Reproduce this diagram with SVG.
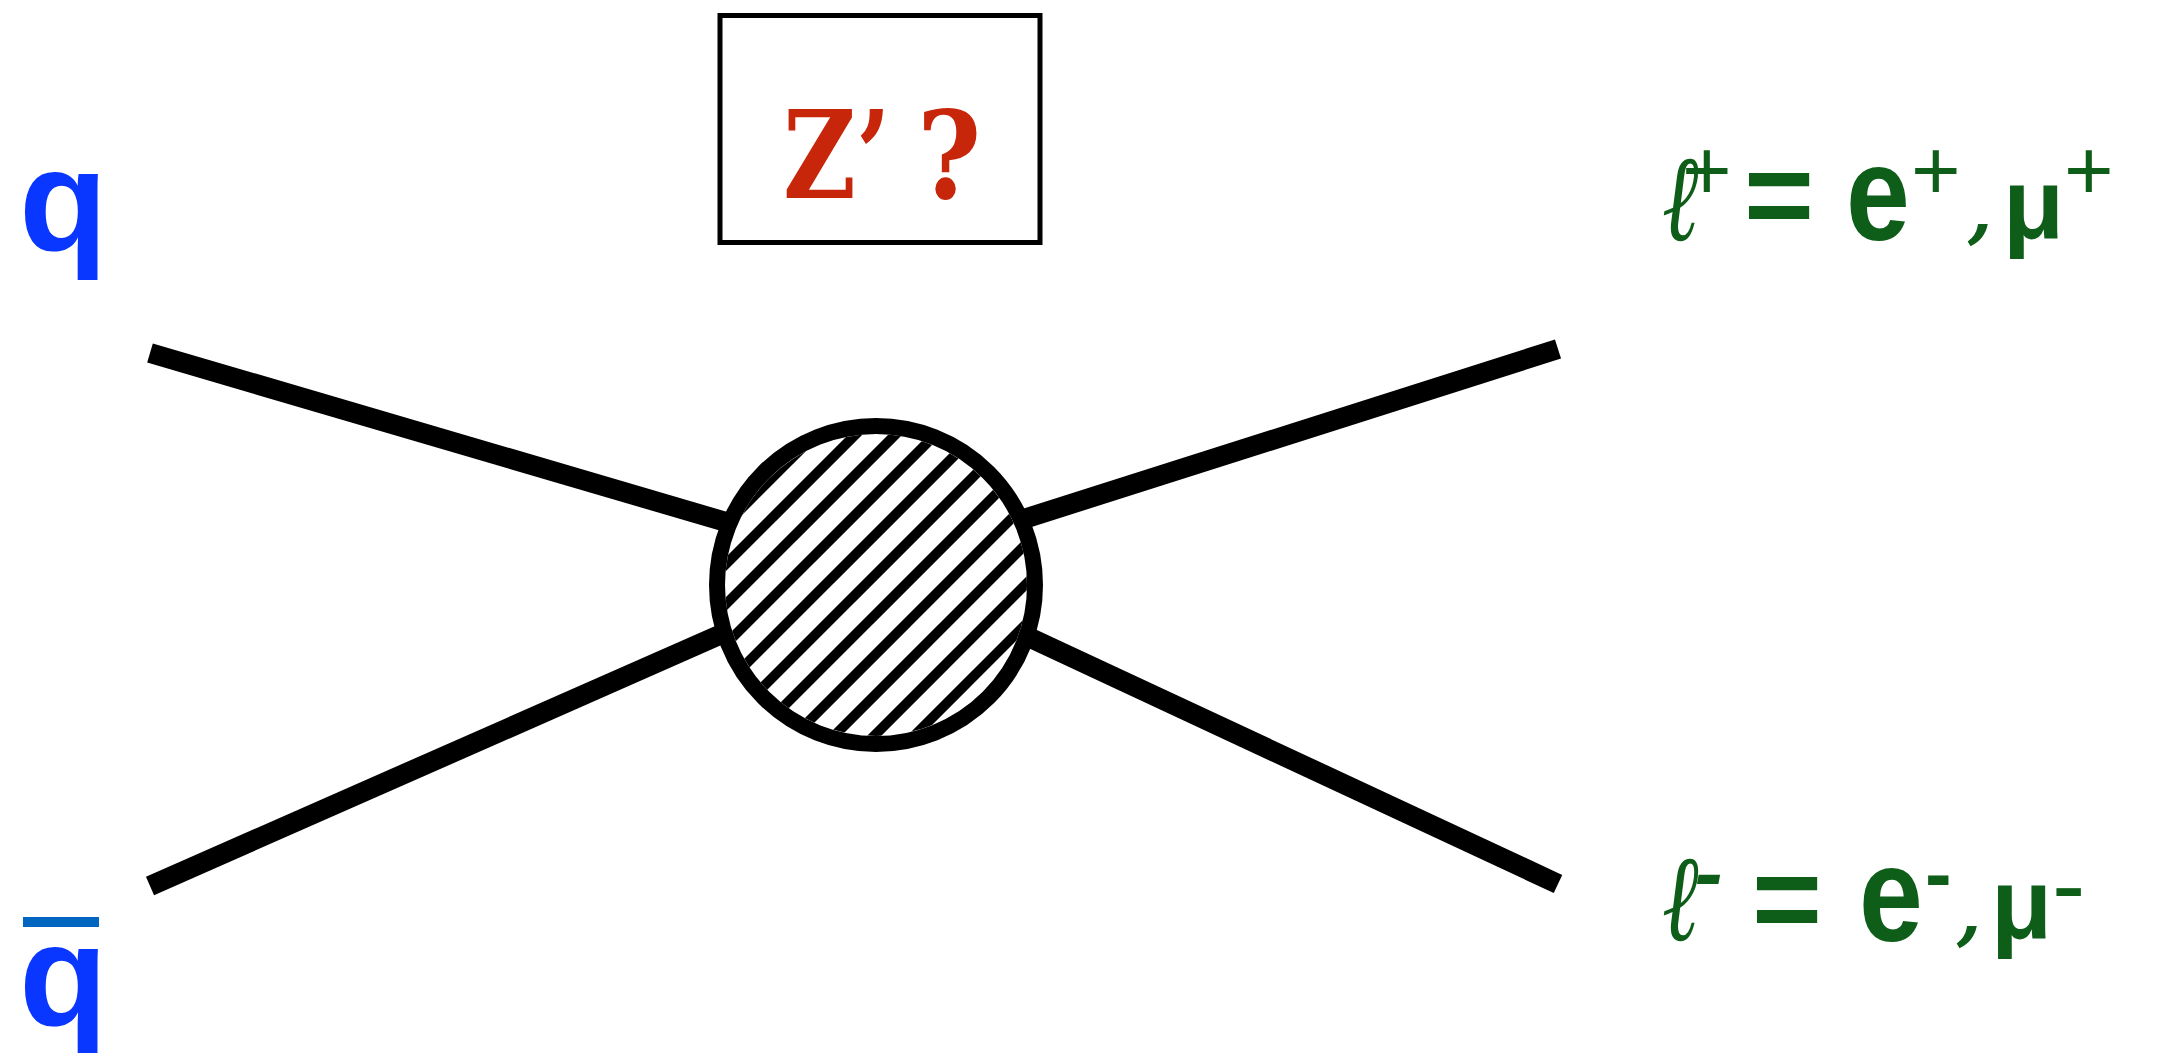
<svg xmlns="http://www.w3.org/2000/svg" width="2172" height="1053" viewBox="0 0 2172 1053">
<style>
.line{stroke:#000;stroke-width:20;fill:none;stroke-linecap:butt}
.hatch{stroke:#000;stroke-width:10}
.q{font-family:"Liberation Sans",Arial,sans-serif;font-weight:bold;font-size:145px;fill:#0A37FF}
.g{font-family:"Liberation Sans",Arial,sans-serif;fill:#0E5E1A}
.b{font-weight:bold}
.s{font-family:"DejaVu Serif",serif;font-style:italic}
.z{font-family:"DejaVu Serif",serif;font-weight:bold;font-size:122px;fill:#C8260A}
</style>
<defs>
<clipPath id="inner"><circle cx="876" cy="585" r="151"/></clipPath>
</defs>
<rect width="2172" height="1053" fill="#fff"/>
<g id="connectors">
<line class="line" x1="150" y1="353" x2="876" y2="566"/>
<line class="line" x1="150" y1="886" x2="876" y2="566"/>
<line class="line" x1="1558" y1="349" x2="876" y2="566"/>
<line class="line" x1="1558" y1="884" x2="876" y2="566"/>
</g>
<g id="vertex">
<circle cx="876" cy="585" r="159" fill="#fff"/>
<g clip-path="url(#inner)">
<line class="hatch" x1="600" y1="650" x2="1150" y2="100"/>
<line class="hatch" x1="600" y1="690" x2="1150" y2="140"/>
<line class="hatch" x1="600" y1="730" x2="1150" y2="180"/>
<line class="hatch" x1="600" y1="770" x2="1150" y2="220"/>
<line class="hatch" x1="600" y1="810" x2="1150" y2="260"/>
<line class="hatch" x1="600" y1="850" x2="1150" y2="300"/>
<line class="hatch" x1="600" y1="890" x2="1150" y2="340"/>
<line class="hatch" x1="600" y1="930" x2="1150" y2="380"/>
<line class="hatch" x1="600" y1="970" x2="1150" y2="420"/>
<line class="hatch" x1="600" y1="1010" x2="1150" y2="460"/>
<line class="hatch" x1="600" y1="1050" x2="1150" y2="500"/>
<line class="hatch" x1="600" y1="1090" x2="1150" y2="540"/>
</g>
<circle cx="876" cy="585" r="159" fill="none" stroke="#000" stroke-width="16"/>
</g>
<g id="zprime">
<rect x="720" y="15.5" width="320" height="227" fill="#fff" stroke="#000" stroke-width="5"/>
<text class="z" transform="translate(783,198) scale(0.82,1)">Z’</text>
<text class="z" transform="translate(917,198) scale(0.9,1)">?</text>
</g>
<g id="quark">
<text class="q" x="19" y="250">q</text>
</g>
<g id="antiquark">
<rect x="23" y="917" width="76" height="10" fill="#0066C0"/>
<text class="q" x="19" y="1025">q</text>
</g>
<g id="lplus">
<text class="g s" transform="translate(1662,240) scale(0.72,1)" font-size="122">ℓ</text>
<text class="g" x="1682" y="200" font-size="85">+</text>
<text class="g b" x="1744" y="236" font-size="120">=</text>
<text class="g b" transform="translate(1846,240) scale(0.85,1)" font-size="135">e</text>
<text class="g" x="1911" y="200" font-size="85">+</text>
<text class="g s b" x="1968" y="235" font-size="70">,</text>
<text class="g b" x="2003" y="238" font-size="100">μ</text>
<text class="g" x="2064" y="200" font-size="85">+</text>
</g>
<g id="lminus">
<text class="g s" transform="translate(1662,940) scale(0.72,1)" font-size="122">ℓ</text>
<text class="g s b" x="1694" y="898" font-size="70">-</text>
<text class="g b" x="1752" y="940" font-size="120">=</text>
<text class="g b" transform="translate(1859,941) scale(0.85,1)" font-size="135">e</text>
<text class="g b" x="1925" y="901" font-size="80">-</text>
<text class="g s b" x="1957" y="937" font-size="70">,</text>
<text class="g b" x="1991" y="938" font-size="100">μ</text>
<text class="g" x="2052" y="919" font-size="100">-</text>
</g>
</svg>
